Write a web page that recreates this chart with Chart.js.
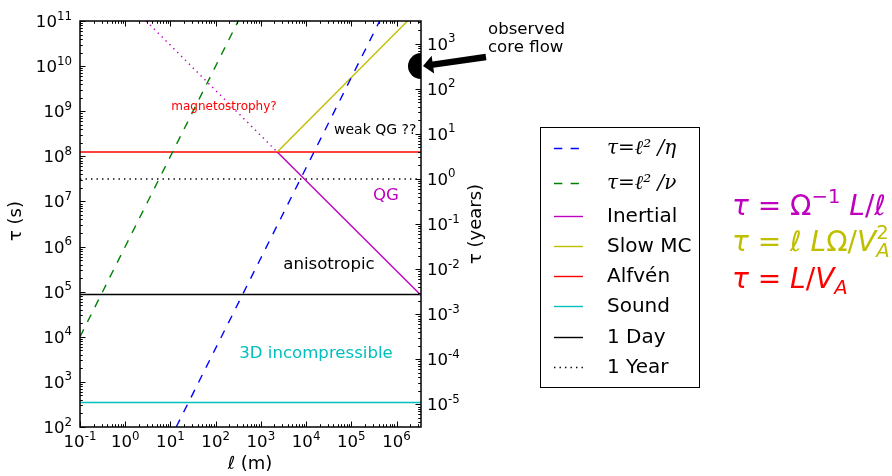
<!DOCTYPE html>
<html><head><meta charset="utf-8">
<script src="https://cdn.jsdelivr.net/npm/chart.js@4/dist/chart.umd.min.js"></script>
<style>html,body{margin:0;padding:0;background:#fff;overflow:hidden}</style>
</head><body>
<canvas id="c" width="892" height="476"></canvas>
<script>
// ---------- data ----------
const lengthRange = [0.1, 3.48e6];          // ℓ (m) axis limits
const tauRange = [1e2, 1e11];               // τ (s) axis limits
const secondsPerYear = 3.156e7;
const xTickExps = [-1, 0, 1, 2, 3, 4, 5, 6];
const yTickExps = [2, 3, 4, 5, 6, 7, 8, 9, 10, 11];
const yearTickExps = [-5, -4, -3, -2, -1, 0, 1, 2, 3];

const legendLabels = ['τ=ℓ² /η', 'τ=ℓ² /ν', 'Inertial', 'Slow MC', 'Alfvén', 'Sound', '1 Day', '1 Year'];

const etaL = [13.4, 4.24e5];       const etaTau = [1e2, 1e11];
const nuL = [0.1, 316];            const nuTau = [1e4, 1e11];
const inertialL = [2300, 3.48e6];  const inertialTau = [1.25e8, 8.3e4];
const inertialDotL = [2.9, 2300];  const inertialDotTau = [1e11, 1.25e8];
const slowMcL = [2300, 1.75e6];    const slowMcTau = [1.25e8, 1e11];
const alfvenTau = [1.25e8, 1.25e8];
const soundTau = [350, 350];
const dayTau = [86400, 86400];
const yearTau = [3.156e7, 3.156e7];
const coreFlowL = [3.48e6];        const coreFlowTau = [1e10];

const annotations = [
  {text: 'magnetostrophy?', x: 224, y: 107, size: 12, color: '#ff0000', align: 'center'},
  {text: 'weak QG ??', x: 334, y: 130, size: 14, color: '#000000', align: 'left'},
  {text: 'QG', x: 386, y: 196, size: 16.6, color: '#bf00bf', align: 'center'},
  {text: 'anisotropic', x: 329, y: 265, size: 16.6, color: '#000000', align: 'center'},
  {text: '3D incompressible', x: 316, y: 354, size: 16.6, color: '#00bfbf', align: 'center'},
  {text: 'observed', x: 488, y: 30, size: 16.6, color: '#000000', align: 'left'},
  {text: 'core flow', x: 488, y: 48, size: 16.6, color: '#000000', align: 'left'}
];

// ---------- helpers ----------
const pts = (xs, ys) => xs.map((x, i) => ({x: x, y: ys[i]}));
const DASH = [8.3, 8.3], DOT = [1.4, 4.1];
const LW = 1.4;
const FONT = '"DejaVu Sans", sans-serif';

const datasets = [
  {label: legendLabels[0], data: pts(etaL, etaTau), borderColor: '#0000ff', borderDash: DASH},
  {label: legendLabels[1], data: pts(nuL, nuTau), borderColor: '#008000', borderDash: DASH},
  {label: legendLabels[2], data: pts(inertialL, inertialTau), borderColor: '#bf00bf'},
  {label: legendLabels[3], data: pts(slowMcL, slowMcTau), borderColor: '#bfbf00'},
  {label: legendLabels[4], data: pts(lengthRange, alfvenTau), borderColor: '#ff0000'},
  {label: legendLabels[5], data: pts(lengthRange, soundTau), borderColor: '#00bfbf'},
  {label: legendLabels[6], data: pts(lengthRange, dayTau), borderColor: '#000000'},
  {label: legendLabels[7], data: pts(lengthRange, yearTau), borderColor: '#000000', borderDash: DOT},
  {label: '', data: pts(inertialDotL, inertialDotTau), borderColor: '#bf00bf', borderDash: DOT, noLegend: true},
  {label: '', data: pts(coreFlowL, coreFlowTau), showLine: false, pointRadius: 13, pointBackgroundColor: '#000', pointBorderWidth: 0, noLegend: true, clipToArea: true}
].map(d => Object.assign({borderWidth: LW, pointRadius: 0, fill: false, clip: 0, tension: 0, yAxisID: 'y'}, d));

function logTicks(lo, hi) {
  const out = [];
  for (let e = Math.floor(Math.log10(lo)) - 1; e <= Math.ceil(Math.log10(hi)); e++) {
    for (let m = 1; m <= 9; m++) {
      const v = m * Math.pow(10, e);
      if (v >= lo * 0.99999 && v <= hi * 1.00001) out.push({v: v, major: m === 1});
    }
  }
  return out;
}

function powLabel(ctx, e, x, y, align) {
  const base = '10', sup = e < 0 ? '-' + (-e) : String(e);
  const BF = '16.6px ' + FONT, SF = '11.8px ' + FONT;
  ctx.font = BF; const wb = ctx.measureText(base).width;
  ctx.font = SF; const ws = ctx.measureText(sup).width;
  const w = wb + ws;
  const x0 = align === 'center' ? x - w / 2 : align === 'right' ? x - w : x;
  ctx.textAlign = 'left'; ctx.textBaseline = 'alphabetic'; ctx.fillStyle = '#000';
  ctx.font = BF; ctx.fillText(base, x0, y);
  ctx.font = SF; ctx.fillText(sup, x0 + wb, y - 7.5);
}

function drawRuns(ctx, x, y, runs, color, size) {
  ctx.fillStyle = color; ctx.textAlign = 'left'; ctx.textBaseline = 'alphabetic';
  let cx = x;
  for (const r of runs) {
    if (r.stack) {
      const s = size * 0.7;
      ctx.font = 'italic ' + s + 'px ' + FONT;
      const w1 = ctx.measureText(r.sub).width;
      ctx.fillText(r.sub, cx, y + size * 0.22);
      ctx.font = s + 'px ' + FONT;
      const w2 = ctx.measureText(r.sup).width;
      ctx.fillText(r.sup, cx, y - size * 0.42);
      cx += Math.max(w1, w2);
      continue;
    }
    const s = (r.sup || r.sub) ? size * 0.7 : size;
    ctx.font = (r.it ? 'italic ' : '') + s + 'px ' + FONT;
    const dy = r.sup ? -size * 0.42 : r.sub ? size * 0.22 : 0;
    ctx.fillText(r.t, cx, y + dy);
    cx += ctx.measureText(r.t).width;
  }
}

const decor = {
  id: 'decor',
  beforeDatasetDraw(chart, args) {
    if (chart.data.datasets[args.index].clipToArea) {
      const a = chart.chartArea, ctx = chart.ctx;
      ctx.save(); ctx.beginPath(); ctx.rect(a.left, a.top, a.right - a.left, a.bottom - a.top); ctx.clip();
    }
  },
  afterDatasetDraw(chart, args) {
    if (chart.data.datasets[args.index].clipToArea) chart.ctx.restore();
  },
  afterDatasetsDraw(chart) {
    const ctx = chart.ctx, a = chart.chartArea;
    const xs = chart.scales.x, ys = chart.scales.y, y2 = chart.scales.y2;
    ctx.save();
    // spines
    ctx.strokeStyle = '#000'; ctx.lineWidth = 1.5; ctx.setLineDash([]);
    ctx.strokeRect(a.left, a.top, a.right - a.left, a.bottom - a.top);
    ctx.lineWidth = 1;
    // x ticks (bottom + top, inward)
    for (const t of logTicks(xs.min, xs.max)) {
      const p = Math.round(xs.getPixelForValue(t.v)) + 0.5, L = t.major ? 5.5 : 2.8;
      ctx.beginPath(); ctx.moveTo(p, a.bottom); ctx.lineTo(p, a.bottom - L);
      ctx.moveTo(p, a.top); ctx.lineTo(p, a.top + L); ctx.stroke();
    }
    // left y ticks
    for (const t of logTicks(ys.min, ys.max)) {
      const p = Math.round(ys.getPixelForValue(t.v)) + 0.5, L = t.major ? 5.5 : 2.8;
      ctx.beginPath(); ctx.moveTo(a.left, p); ctx.lineTo(a.left + L, p); ctx.stroke();
    }
    // right (years) ticks
    for (const t of logTicks(y2.min, y2.max)) {
      const p = Math.round(y2.getPixelForValue(t.v)) + 0.5, L = t.major ? 5.5 : 2.8;
      ctx.beginPath(); ctx.moveTo(a.right, p); ctx.lineTo(a.right - L, p); ctx.stroke();
    }
    // tick labels
    for (const e of xTickExps) powLabel(ctx, e, xs.getPixelForValue(Math.pow(10, e)), a.bottom + 20, 'center');
    for (const e of yTickExps) powLabel(ctx, e, a.left - 8, ys.getPixelForValue(Math.pow(10, e)) + 6, 'right');
    for (const e of yearTickExps) powLabel(ctx, e, a.right + 6, y2.getPixelForValue(Math.pow(10, e)) + 6, 'left');
    // axis titles
    ctx.fillStyle = '#000'; ctx.textAlign = 'center'; ctx.textBaseline = 'middle';
    ctx.font = '18px ' + FONT;
    ctx.fillText('ℓ (m)', 250, 464);
    ctx.save(); ctx.translate(16, 221); ctx.rotate(-Math.PI / 2); ctx.fillText('τ (s)', 0, 0); ctx.restore();
    ctx.save(); ctx.translate(476, 224); ctx.rotate(-Math.PI / 2); ctx.fillText('τ (years)', 0, 0); ctx.restore();
    // annotations
    for (const an of annotations) {
      ctx.font = an.size + 'px ' + FONT; ctx.fillStyle = an.color;
      ctx.textAlign = an.align; ctx.textBaseline = 'middle';
      ctx.fillText(an.text, an.x, an.y);
    }
    // arrow to observed core flow
    const tail = {x: 486, y: 57}, tip = {x: 423, y: 66};
    const ang = Math.atan2(tip.y - tail.y, tip.x - tail.x);
    const ux = Math.cos(ang), uy = Math.sin(ang), nx = -uy, ny = ux;
    const hl = 10, hw = 9, sw = 3.2;
    const bx = tip.x - ux * hl, by = tip.y - uy * hl;
    ctx.fillStyle = '#000'; ctx.beginPath();
    ctx.moveTo(tail.x + nx * sw, tail.y + ny * sw);
    ctx.lineTo(bx + nx * sw, by + ny * sw);
    ctx.lineTo(bx + nx * hw, by + ny * hw);
    ctx.lineTo(tip.x, tip.y);
    ctx.lineTo(bx - nx * hw, by - ny * hw);
    ctx.lineTo(bx - nx * sw, by - ny * sw);
    ctx.lineTo(tail.x - nx * sw, tail.y - ny * sw);
    ctx.closePath(); ctx.fill();
    // legend
    ctx.strokeStyle = '#000'; ctx.lineWidth = 1; ctx.setLineDash([]);
    ctx.strokeRect(540.5, 127.5, 159, 260);
    const rowY = [148, 183, 216, 246, 276, 306, 337, 367];
    let i = 0;
    chart.data.datasets.forEach(ds => {
      if (ds.noLegend) return;
      const y = rowY[i];
      ctx.strokeStyle = ds.borderColor; ctx.lineWidth = LW;
      ctx.setLineDash(ds.borderDash || []);
      ctx.beginPath(); ctx.moveTo(554, y + 0.5); ctx.lineTo(583, y + 0.5); ctx.stroke();
      ctx.setLineDash([]);
      ctx.fillStyle = '#000'; ctx.textAlign = 'left'; ctx.textBaseline = 'middle';
      ctx.font = (i < 2 ? 'italic 20px "DejaVu Serif", serif' : '20px ' + FONT);
      ctx.fillText(ds.label, 607, y + 1);
      i++;
    });
    // formulas
    const FS = 28;
    drawRuns(ctx, 732, 215, [{t: 'τ', it: 1}, {t: ' = Ω'}, {t: '−1', sup: 1}, {t: ' '}, {t: 'L', it: 1}, {t: '/'}, {t: 'ℓ', it: 1}], '#bf00bf', FS);
    drawRuns(ctx, 732, 251, [{t: 'τ', it: 1}, {t: ' = '}, {t: 'ℓ', it: 1}, {t: ' '}, {t: 'L', it: 1}, {t: 'Ω/'}, {t: 'V', it: 1}, {stack: 1, sub: 'A', sup: '2'}], '#bfbf00', FS);
    drawRuns(ctx, 732, 288, [{t: 'τ', it: 1}, {t: ' = '}, {t: 'L', it: 1}, {t: '/'}, {t: 'V', it: 1}, {t: 'A', it: 1, sub: 1}], '#ff0000', FS);
    ctx.restore();
  }
};

const hidden = {grid: {display: false}, border: {display: false}, ticks: {display: false}};
new Chart(document.getElementById('c'), {
  type: 'line',
  data: {datasets: datasets},
  options: {
    responsive: false, animation: false, devicePixelRatio: 1,
    layout: {padding: {left: 0, top: 21, right: 411, bottom: 0}},
    plugins: {legend: {display: false}, tooltip: {enabled: false}},
    scales: {
      x: Object.assign({type: 'logarithmic', position: 'bottom', min: lengthRange[0], max: lengthRange[1], afterFit(s) { s.height = 49; }}, hidden),
      y: Object.assign({type: 'logarithmic', position: 'left', min: tauRange[0], max: tauRange[1], afterFit(s) { s.width = 80; }}, hidden),
      y2: Object.assign({type: 'logarithmic', position: 'right', min: tauRange[0] / secondsPerYear, max: tauRange[1] / secondsPerYear, afterFit(s) { s.width = 60; }}, hidden)
    }
  },
  plugins: [decor]
});
</script>
</body></html>
